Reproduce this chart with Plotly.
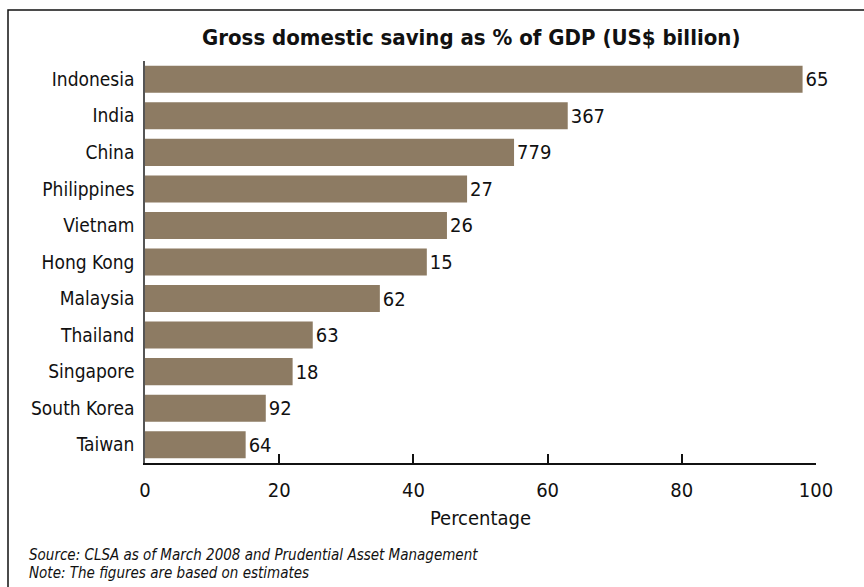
import plotly.graph_objects as go

countries = ["Indonesia", "India", "China", "Philippines", "Vietnam", "Hong Kong",
             "Malaysia", "Thailand", "Singapore", "South Korea", "Taiwan"]
saving_pct = [98, 63, 55, 48, 45, 42, 35, 25, 22, 18, 15]
usd_billion = ["65", "367", "779", "27", "26", "15", "62", "63", "18", "92", "64"]
x_ticks = [0, 20, 40, 60, 80, 100]

W, H = 864, 587
FONT = "DejaVu Sans Condensed, Liberation Sans Narrow, Arial Narrow, sans-serif"

fig = go.Figure(go.Bar(
    y=countries, x=saving_pct, orientation="h",
    marker=dict(color="#8D7B63", line=dict(width=0)),
    width=0.74,
    text=usd_billion, textposition="outside", cliponaxis=False,
    textfont=dict(family=FONT, size=20, color="#111"),
))

fig.update_layout(
    width=W, height=H,
    margin=dict(l=145, r=48, t=61, b=124),
    paper_bgcolor="white", plot_bgcolor="white",
    showlegend=False,
    font=dict(family=FONT, color="#111"),
    xaxis=dict(range=[0, 100], tickvals=x_ticks, ticks="inside", ticklen=9,
               tickwidth=1.5, tickcolor="#111", showline=True, linecolor="#111",
               linewidth=1.5, showgrid=False, zeroline=False,
               tickfont=dict(size=20, family=FONT), ticklabelstandoff=8,
               title=dict(text="Percentage", font=dict(size=20, family=FONT), standoff=10)),
    yaxis=dict(autorange="reversed", showline=True, linecolor="#555", linewidth=1.5,
               showgrid=False, zeroline=False, ticks="", ticklabelstandoff=5,
               tickfont=dict(size=19, family=FONT)),
    shapes=[dict(type="rect", xref="paper", yref="paper",
                 x0=(8 - 145) / (W - 145 - 48), x1=(W + 10 - 145) / (W - 145 - 48),
                 y0=-(H + 10 - 61 - 402) / 402 - 0.0, y1=1 + (61 - 10) / 402,
                 line=dict(color="#111", width=1.5), layer="below")],
    annotations=[
        dict(text="<b>Gross domestic saving as % of GDP (US$ billion)</b>",
             xref="paper", yref="paper", x=(471 - 145) / (W - 145 - 48), y=1 + (61 - 37) / 402,
             xanchor="center", yanchor="middle", showarrow=False,
             font=dict(size=22, family=FONT, color="#111")),
        dict(text="<i>Source: CLSA as of March 2008 and Prudential Asset Management</i>",
             xref="paper", yref="paper", x=(27 - 145) / (W - 145 - 48), y=-(555 - 463.5) / 402,
             xanchor="left", yanchor="middle", showarrow=False,
             font=dict(size=15, family=FONT, color="#111")),
        dict(text="<i>Note: The figures are based on estimates</i>",
             xref="paper", yref="paper", x=(27 - 145) / (W - 145 - 48), y=-(573 - 463.5) / 402,
             xanchor="left", yanchor="middle", showarrow=False,
             font=dict(size=15, family=FONT, color="#111")),
    ],
)

fig.write_html("out.html")
